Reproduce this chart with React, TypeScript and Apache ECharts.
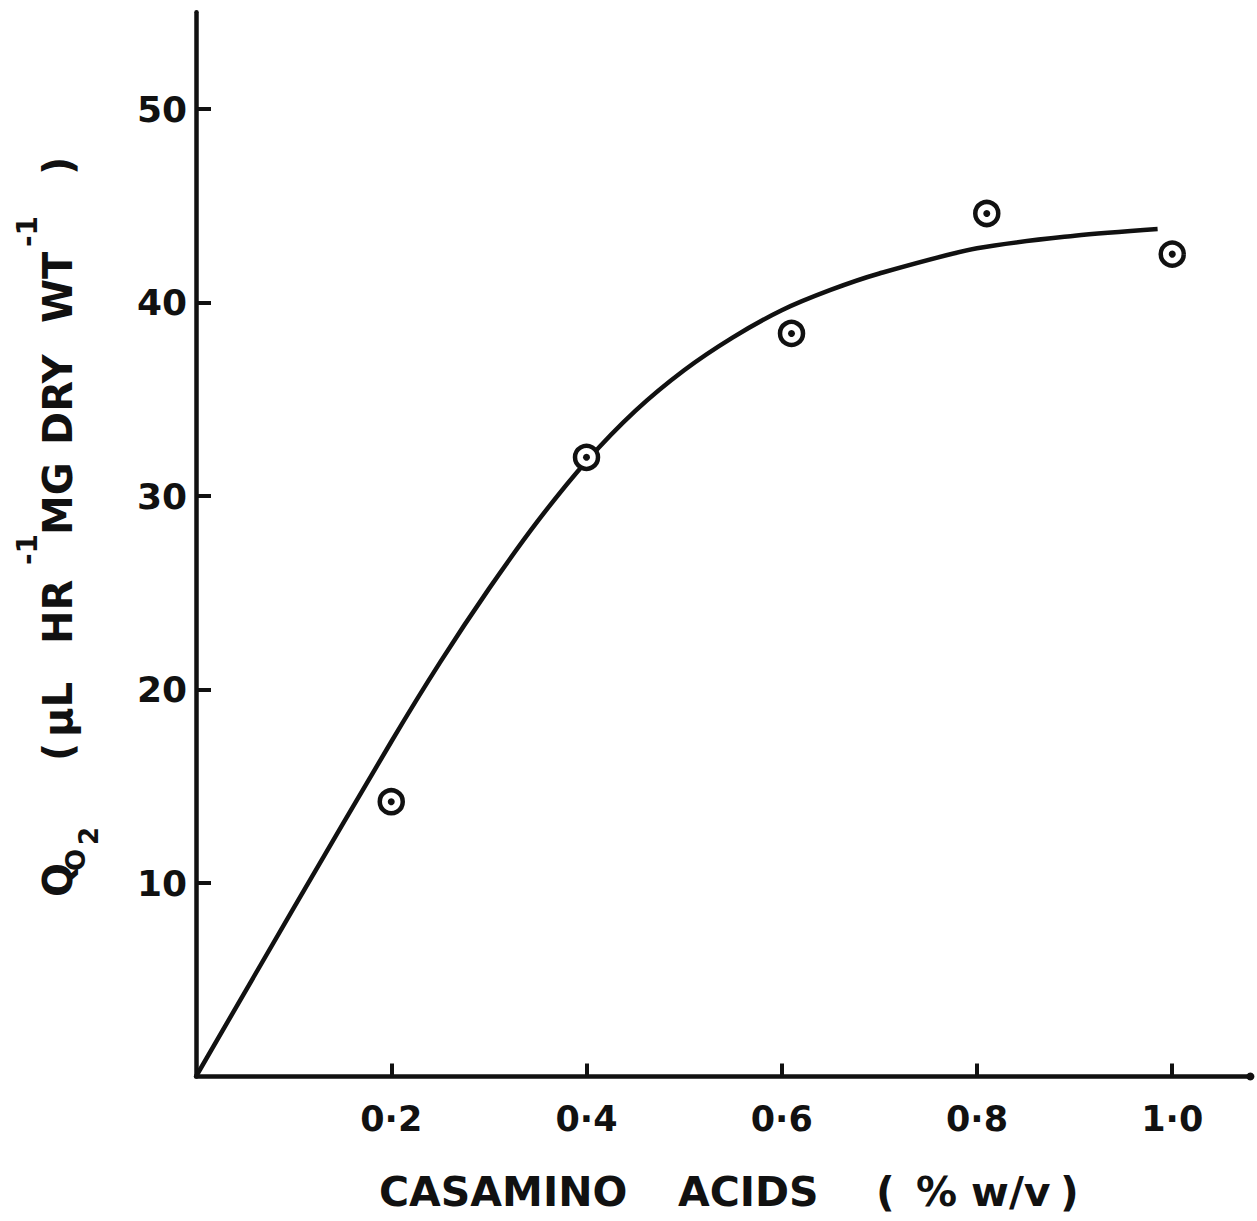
import React, { useEffect, useRef } from "react";
import * as echarts from "echarts";

// Measured points (casamino acids % w/v vs QO2)
const casaminoPct = [0.2, 0.4, 0.61, 0.81, 1.0];
const qo2Measured = [14.2, 32.0, 38.4, 44.6, 42.5];

// Hand-drawn fitted curve
const fitX = [0, 0.1, 0.2, 0.25, 0.3, 0.35, 0.4, 0.45, 0.5, 0.55, 0.6, 0.65, 0.7, 0.8, 0.9, 0.985];
const fitY = [0, 8.7, 17.3, 21.4, 25.2, 28.7, 31.8, 34.4, 36.5, 38.2, 39.6, 40.65, 41.5, 42.8, 43.45, 43.8];

// Tick values
const xTicks = [0.2, 0.4, 0.6, 0.8, 1.0];
const yTicks = [10, 20, 30, 40, 50];

const FONT = "DejaVu Sans";

export default function App() {
  const ref = useRef<HTMLDivElement>(null);

  useEffect(() => {
    if (!ref.current) return;
    const chart = echarts.init(ref.current, null, { renderer: "svg" });

    const measured = casaminoPct.map((x, i) => [x, qo2Measured[i]]);
    const fit = fitX.map((x, i) => [x, fitY[i]]);

    const main = (w: number) => ({
      fontSize: 40,
      fontWeight: "bold",
      fontFamily: FONT,
      fill: "#111",
      lineHeight: 100,
      width: w,
      align: "left",
    });
    const sup = (w: number) => ({
      fontSize: 28,
      fontWeight: "bold",
      fontFamily: FONT,
      fill: "#111",
      height: 38,
      width: w,
      align: "left",
      verticalAlign: "top",
    });
    const sub = (w: number, h: number) => ({
      fontSize: 26,
      fontWeight: "bold",
      fontFamily: FONT,
      fill: "#111",
      height: h,
      width: w,
      align: "left",
      verticalAlign: "bottom",
    });
    const xt = (w: number) => ({
      fontSize: 41,
      fontWeight: "bold",
      fontFamily: FONT,
      fill: "#111",
      width: w,
      align: "left",
    });

    chart.setOption({
      animation: false,
      backgroundColor: "#ffffff",
      grid: { left: 196, right: 6.65, top: 12.25, bottom: 144.5 },
      xAxis: {
        type: "value",
        min: 0,
        max: 1.08,
        splitLine: { show: false },
        axisLine: {
          show: true,
          lineStyle: { color: "#111", width: 4.5 },
          symbol: ["none", "circle"],
          symbolSize: [8, 8],
        },
        axisTick: {
          show: true,
          inside: true,
          length: 13,
          customValues: xTicks,
          lineStyle: { color: "#111", width: 4 },
        },
        axisLabel: {
          customValues: xTicks,
          margin: 25,
          color: "#111",
          fontSize: 35,
          fontWeight: "bold",
          fontFamily: FONT,
          formatter: (v: number) => v.toFixed(1).replace(".", "·"),
        },
      },
      yAxis: {
        type: "value",
        min: 0,
        max: 55,
        splitLine: { show: false },
        axisLine: { show: true, lineStyle: { color: "#111", width: 4.5 } },
        axisTick: {
          show: true,
          inside: true,
          length: 15,
          customValues: yTicks,
          lineStyle: { color: "#111", width: 4 },
        },
        axisLabel: {
          customValues: yTicks,
          margin: 9,
          color: "#111",
          fontSize: 36,
          fontWeight: "bold",
          fontFamily: FONT,
        },
      },
      series: [
        {
          type: "line",
          data: fit,
          smooth: 0.3,
          showSymbol: false,
          lineStyle: { color: "#111", width: 4.5 },
          z: 2,
        },
        {
          type: "scatter",
          data: measured,
          symbol: "circle",
          symbolSize: 23,
          itemStyle: { color: "#ffffff", borderColor: "#111", borderWidth: 4.5, opacity: 1 },
          z: 3,
        },
        {
          type: "scatter",
          data: measured,
          symbol: "circle",
          symbolSize: 7,
          itemStyle: { color: "#111", opacity: 1 },
          z: 4,
        },
      ],
      graphic: [
        {
          type: "text",
          x: 58,
          y: 528,
          rotation: Math.PI / 2,
          style: {
            text:
              "{q|Q}{o|O}{two|2}{lp|(}{mu|μL}{hr|HR}{s1|-1}{mg|MG}{dry|DRY}{wt|WT}{s2|-1}{rp|)}",
            align: "center",
            verticalAlign: "middle",
            fill: "#111",
            rich: {
              q: main(26),
              o: sub(26, 64),
              two: sub(84, 38),
              lp: main(24),
              mu: main(93),
              hr: main(79),
              s1: sup(30),
              mg: main(90),
              dry: main(122),
              wt: main(76),
              s2: sup(72),
              rp: main(16),
            },
          },
        },
        {
          type: "text",
          x: 379,
          y: 1192,
          style: {
            text: "{a|CASAMINO}{b|ACIDS}{c|(}{d|%}{e|w/v}{f|)}",
            align: "left",
            verticalAlign: "middle",
            fill: "#111",
            rich: {
              a: xt(299),
              b: xt(198),
              c: xt(40),
              d: xt(55),
              e: xt(89),
              f: xt(19),
            },
          },
        },
      ],
    });

    return () => chart.dispose();
  }, []);

  return (
    <div
      ref={ref}
      style={{ position: "absolute", left: 0, top: 0, width: 1257, height: 1221, background: "#fff" }}
    />
  );
}
